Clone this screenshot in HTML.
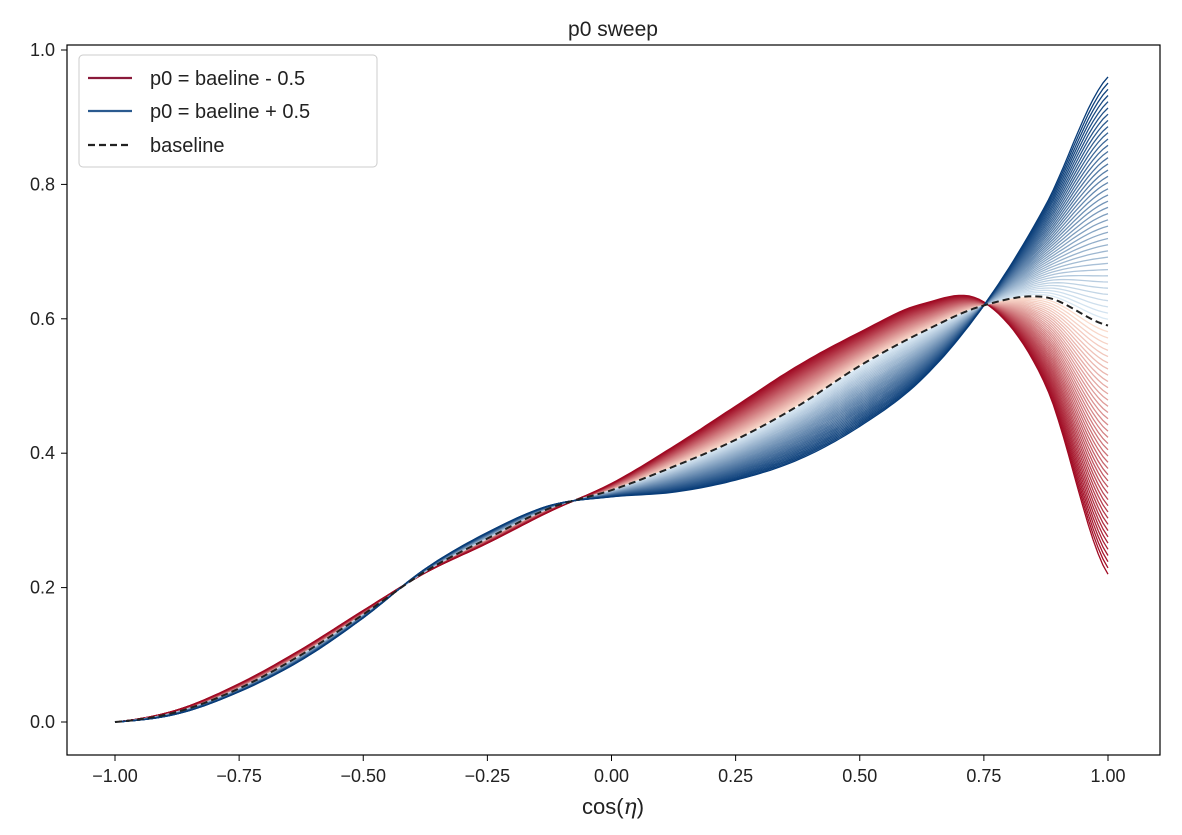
<!DOCTYPE html>
<html><head><meta charset="utf-8"><style>
html,body{margin:0;padding:0;background:#fff;}
svg{display:block;font-family:"Liberation Sans","DejaVu Sans",sans-serif;}
</style></head><body>
<svg id="chart" width="1182" height="835">
<rect x="67" y="45" width="1093" height="710" fill="#fff" stroke="#000" stroke-width="1.2"/>
<g id="marks"></g>
<g id="axes"></g>
<text x="613" y="36" text-anchor="middle" font-size="21" fill="#222">p0 sweep</text>
<text x="613" y="814" text-anchor="middle" font-size="22" fill="#222">cos(<tspan font-style="italic" font-family="DejaVu Serif, serif">η</tspan>)</text>
<g>
<rect x="79" y="55" width="298" height="112" rx="4" fill="#fff" stroke="#ccc" stroke-width="1"/>
<line x1="88" y1="78" x2="132" y2="78" stroke="#8a1a3a" stroke-width="2.2"/>
<text x="150" y="85" font-size="20" fill="#222">p0 = baeline - 0.5</text>
<line x1="88" y1="111" x2="132" y2="111" stroke="#2a5a8f" stroke-width="2.2"/>
<text x="150" y="118" font-size="20" fill="#222">p0 = baeline + 0.5</text>
<line x1="88" y1="145" x2="132" y2="145" stroke="#222" stroke-width="2.2" stroke-dasharray="7,4"/>
<text x="150" y="152" font-size="20" fill="#222">baseline</text>
</g>
</svg>
<script>
const xs = [-1,-0.875,-0.75,-0.625,-0.5,-0.375,-0.25,-0.125,0,0.125,0.25,0.375,0.5,0.625,0.75,0.875,1];
const baseline = [0,0.015,0.05,0.1,0.16,0.224,0.273,0.318,0.345,0.38,0.42,0.47,0.53,0.58,0.62,0.632,0.59];
const redExtreme = [0,0.018,0.057,0.108,0.166,0.222,0.266,0.313,0.355,0.41,0.47,0.53,0.58,0.622,0.625,0.5,0.22];
const blueExtreme = [0,0.012,0.045,0.092,0.155,0.228,0.282,0.322,0.335,0.342,0.36,0.39,0.44,0.51,0.62,0.77,0.96];
const xTicks = [-1,-0.75,-0.5,-0.25,0,0.25,0.5,0.75,1];
const xTickLabels = ["−1.00","−0.75","−0.50","−0.25","0.00","0.25","0.50","0.75","1.00"];
const yTicks = [0,0.2,0.4,0.6,0.8,1.0];
const yTickLabels = ["0.0","0.2","0.4","0.6","0.8","1.0"];

const X = v => 611.5 + v*496.5;
const Y = v => 722 - v*672;
const NS = "http://www.w3.org/2000/svg";
const marks = document.getElementById('marks');
const axes = document.getElementById('axes');

function interp(arr, x){
  const h = xs[1]-xs[0];
  let i = Math.min(Math.floor((x - xs[0])/h), xs.length-2);
  const t = (x - xs[i])/h;
  const p0 = arr[Math.max(i-1,0)], p1 = arr[i], p2 = arr[i+1], p3 = arr[Math.min(i+2,arr.length-1)];
  return 0.5*((2*p1)+(-p0+p2)*t+(2*p0-5*p1+4*p2-p3)*t*t+(-p0+3*p1-3*p2+p3)*t*t*t);
}
function pathFor(fn){
  let d = "";
  for(let k=0;k<=200;k++){
    const x = -1 + 2*k/200;
    d += (k?"L":"M") + X(x).toFixed(1) + "," + Y(fn(x)).toFixed(1);
  }
  return d;
}
function mix(c1,c2,t){
  return "rgb("+c1.map((c,i)=>Math.round(c+(c2[i]-c)*t)).join(",")+")";
}
const N = 40;
[[redExtreme,[253,226,210],[160,10,35],'red'],[blueExtreme,[222,236,246],[8,60,120],'blue']].forEach(([ext,light,dark,nm])=>{
  for(let j=1;j<=N;j++){
    const f = j/N;
    const p = document.createElementNS(NS,'path');
    p.setAttribute('d', pathFor(x => interp(baseline,x)*(1-f) + interp(ext,x)*f));
    p.setAttribute('fill','none');
    p.setAttribute('stroke', mix(light,dark,f));
    p.setAttribute('stroke-width','1.3');
    
    
    marks.appendChild(p);
  }
});
const bp = document.createElementNS(NS,'path');
bp.setAttribute('d', pathFor(x=>interp(baseline,x)));
bp.setAttribute('fill','none');
bp.setAttribute('stroke','#222');
bp.setAttribute('stroke-width','2');
bp.setAttribute('stroke-dasharray','7,4');


marks.appendChild(bp);

xTicks.forEach((v,i)=>{
  const l = document.createElementNS(NS,'line');
  l.setAttribute('x1',X(v));l.setAttribute('x2',X(v));l.setAttribute('y1',755);l.setAttribute('y2',761);
  l.setAttribute('stroke','#000');
  
  
  axes.appendChild(l);
  const t = document.createElementNS(NS,'text');
  t.setAttribute('x',X(v));t.setAttribute('y',782);t.setAttribute('text-anchor','middle');
  t.setAttribute('font-size','18');t.setAttribute('fill','#222');
  t.textContent = xTickLabels[i];
  
  
  axes.appendChild(t);
});
yTicks.forEach((v,i)=>{
  const l = document.createElementNS(NS,'line');
  l.setAttribute('x1',61);l.setAttribute('x2',67);l.setAttribute('y1',Y(v));l.setAttribute('y2',Y(v));
  l.setAttribute('stroke','#000');
  
  
  axes.appendChild(l);
  const t = document.createElementNS(NS,'text');
  t.setAttribute('x',55);t.setAttribute('y',Y(v)+6);t.setAttribute('text-anchor','end');
  t.setAttribute('font-size','18');t.setAttribute('fill','#222');
  t.textContent = yTickLabels[i];
  
  
  axes.appendChild(t);
});
</script>
</body></html>
